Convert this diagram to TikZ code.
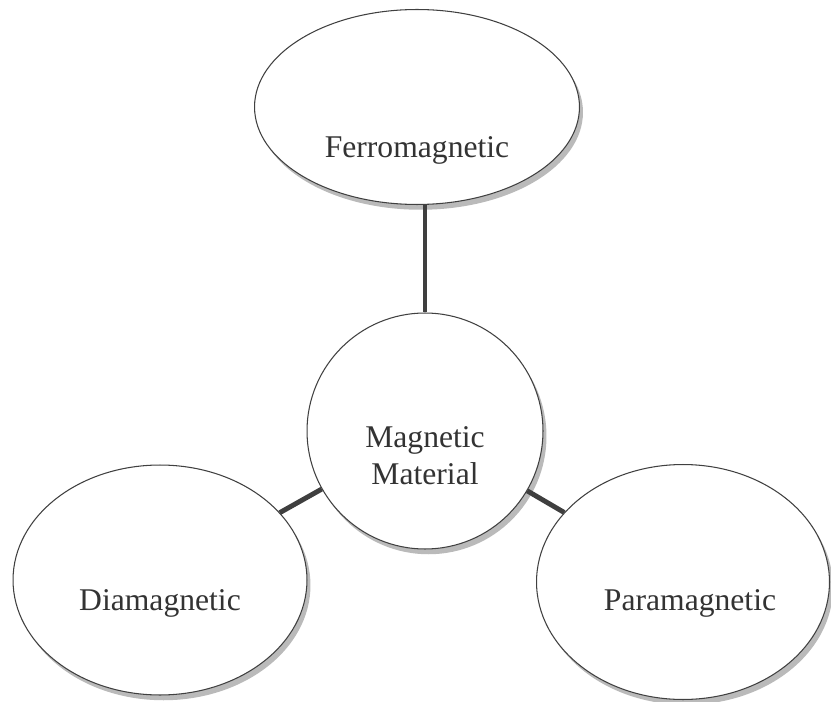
\documentclass[tikz,border=0pt]{standalone}
\usepackage{fontspec}
\setmainfont{Liberation Serif}
\usepackage{tikz}
\usetikzlibrary{shapes.geometric, shadows}
\definecolor{cLine}{HTML}{3F3F3F}
\definecolor{cText}{HTML}{333333}
\tikzset{
  bubble/.style={
    ellipse, draw=black!75, line width=0.6pt, fill=white,
    drop shadow={shadow xshift=2pt, shadow yshift=-3pt, fill=black!45, opacity=0.6}
  },
  txt/.style={font=\fontsize{18}{21}\selectfont, text=cText, align=center},
  link/.style={line width=2.8pt, cLine},
}

\begin{document}
\begin{tikzpicture}[x=0.02cm, y=-0.02cm]
  \useasboundingbox (0,0) rectangle (831,702);

  % Centre and the three classes
  \node[bubble, circle, minimum size=4.72cm,
        label={[txt, yshift=-0.5cm]center:Magnetic\\Material}] (mat) at (425,431) {};
  \node[bubble, minimum width=6.5cm, minimum height=3.9cm,
        label={[txt, yshift=-0.86cm]center:Ferromagnetic}] (ferro) at (417,107) {};
  \node[bubble, minimum width=5.88cm, minimum height=4.6cm,
        label={[txt, yshift=-0.46cm]center:Diamagnetic}] (dia) at (160,580) {};
  \node[bubble, minimum width=5.86cm, minimum height=4.7cm,
        label={[txt, yshift=-0.42cm, xshift=0.14cm]center:Paramagnetic}] (para) at (683,582) {};

  % Links
  \draw[link] (mat.north |- ferro.south) -- (mat.north);
  \draw[link] (dia) -- (mat);
  \draw[link] (para) -- (mat);

\end{tikzpicture}
\end{document}
